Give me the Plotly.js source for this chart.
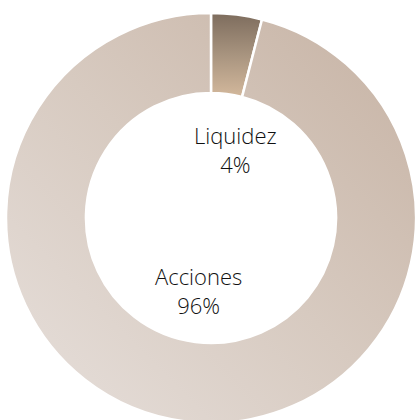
<!DOCTYPE html>
<html><head><meta charset="utf-8">
<script src="https://cdn.plot.ly/plotly-3.0.1.min.js"></script>
<style>html,body{margin:0;padding:0;overflow:hidden;background:#fff}#chart{width:416px;height:440px}</style>
</head><body><div id="chart"></div>
<script>
const labels = ["Liquidez", "Acciones"];
const values = [4, 96];
const pctLabels = ["4%", "96%"];
const baseColors = ["#a8927c", "#d6c8bd"];
const gradients = [
  {id: "gLiq", x1: 0, y1: 0, x2: 0, y2: 1, stops: ["#7d6c5d", "#a8947f", "#d3b89c"]},
  {id: "gAcc", x1: 1, y1: 0, x2: 0, y2: 1, stops: ["#c6b2a3", "#d7cac0", "#e7e0dc"]}
];
const labelPos = [{x: 235, y: 150}, {x: 198, y: 290}];

const W = 416, H = 440;
const trace = {
  type: "pie", labels: labels, values: values, hole: 0.61, sort: false,
  direction: "clockwise", rotation: 0, textinfo: "none", hoverinfo: "none",
  marker: {colors: baseColors, line: {color: "#ffffff", width: 2.5}},
  domain: {x: [6 / W, 1], y: [(H - 423) / H, (H - 13) / H]}
};
const annotations = labels.map((l, i) => ({
  xref: "paper", yref: "paper", x: labelPos[i].x / W, y: 1 - labelPos[i].y / H,
  xanchor: "center", yanchor: "middle", showarrow: false, align: "center",
  text: l + "<br>" + pctLabels[i],
  font: {family: "'Open Sans', Lato, sans-serif", size: 22, weight: 300, color: "#111111"}
}));
const layout = {
  width: W, height: H, margin: {l: 0, r: 0, t: 0, b: 0}, showlegend: false,
  paper_bgcolor: "#ffffff", annotations: annotations
};
Plotly.newPlot("chart", [trace], layout, {displayModeBar: false, staticPlot: true}).then(gd => {
  const ns = "http://www.w3.org/2000/svg";
  const svg = gd.querySelector("svg.main-svg");
  let defs = svg.querySelector("defs");
  if (!defs) { defs = document.createElementNS(ns, "defs"); svg.insertBefore(defs, svg.firstChild); }
  gradients.forEach(g => {
    const lg = document.createElementNS(ns, "linearGradient");
    lg.setAttribute("id", g.id);
    lg.setAttribute("x1", g.x1); lg.setAttribute("y1", g.y1);
    lg.setAttribute("x2", g.x2); lg.setAttribute("y2", g.y2);
    g.stops.forEach((c, k) => {
      const s = document.createElementNS(ns, "stop");
      s.setAttribute("offset", (k / (g.stops.length - 1)).toString());
      s.setAttribute("stop-color", c);
      lg.appendChild(s);
    });
    defs.appendChild(lg);
  });
  const paths = gd.querySelectorAll("g.slice path.surface");
  paths.forEach((p, i) => { p.style.fill = "url(#" + gradients[i].id + ")"; });
});
</script></body></html>
